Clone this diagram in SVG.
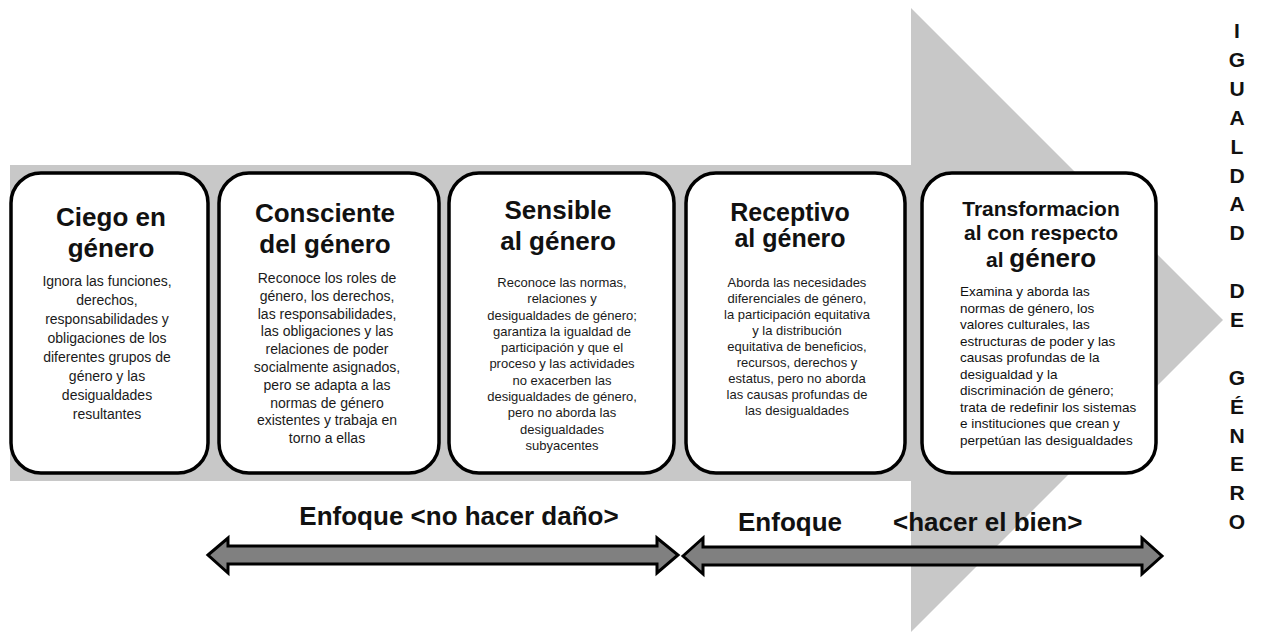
<svg xmlns="http://www.w3.org/2000/svg" width="1262" height="634" viewBox="0 0 1262 634">
<style>
text{font-family:"Liberation Sans",Arial,sans-serif;fill:#111}
.t{font-weight:bold;font-size:26px;text-anchor:middle}
.b{font-size:14px;text-anchor:middle;fill:#1a1a1a}
.b13{font-size:13px;text-anchor:middle;fill:#1a1a1a}
.box{fill:#fff;stroke:#000;stroke-width:3.5}
.dbl{fill:#808080;stroke:#000;stroke-width:3;stroke-linejoin:miter}
.v{font-weight:bold;font-size:21px;text-anchor:middle}
.e{font-weight:bold;font-size:26px}
</style>
<rect width="1262" height="634" fill="#fff"/>
<g id="big-arrow">
<polygon points="10,165 911,165 911,8 1223,320 911,632 911,481 10,481" fill="#c8c8c8"/>
</g>
<g id="box1">
<rect class="box" x="11" y="173" width="197" height="300" rx="30"/>
<text class="t" x="111" y="226">Ciego en</text>
<text class="t" x="111" y="257">género</text>
<text class="b" x="107" y="286">Ignora las funciones,</text>
<text class="b" x="107" y="305">derechos,</text>
<text class="b" x="107" y="324">responsabilidades  y</text>
<text class="b" x="107" y="343">obligaciones de los</text>
<text class="b" x="107" y="362">diferentes grupos de</text>
<text class="b" x="107" y="381">género y las</text>
<text class="b" x="107" y="400">desigualdades</text>
<text class="b" x="107" y="419">resultantes</text>
</g>
<g id="box2">
<rect class="box" x="219" y="173" width="220" height="300" rx="30"/>
<text class="t" x="325" y="222">Consciente</text>
<text class="t" x="325" y="253">del género</text>
<text class="b" x="327" y="283">Reconoce los roles de</text>
<text class="b" x="327" y="301">género, los derechos,</text>
<text class="b" x="327" y="319">las responsabilidades,</text>
<text class="b" x="327" y="336">las obligaciones  y las</text>
<text class="b" x="327" y="354">relaciones de poder</text>
<text class="b" x="327" y="372">socialmente  asignados,</text>
<text class="b" x="327" y="390">pero se adapta a las</text>
<text class="b" x="327" y="408">normas de género</text>
<text class="b" x="327" y="425">existentes y trabaja en</text>
<text class="b" x="327" y="443">torno a ellas</text>
</g>
<g id="box3">
<rect class="box" x="449" y="173" width="225" height="300" rx="30"/>
<text class="t" x="558" y="219">Sensible</text>
<text class="t" x="558" y="250">al género</text>
<text class="b13" x="562" y="287">Reconoce las normas,</text>
<text class="b13" x="562" y="303">relaciones y</text>
<text class="b13" x="562" y="320">desigualdades de género;</text>
<text class="b13" x="562" y="336">garantiza la igualdad de</text>
<text class="b13" x="562" y="352">participación y que el</text>
<text class="b13" x="562" y="368">proceso  y las actividades</text>
<text class="b13" x="562" y="385">no exacerben las</text>
<text class="b13" x="562" y="401">desigualdades de género,</text>
<text class="b13" x="562" y="417">pero no aborda las</text>
<text class="b13" x="562" y="434">desigualdades</text>
<text class="b13" x="562" y="450">subyacentes</text>
</g>
<g id="box4">
<rect class="box" x="686" y="173" width="219" height="300" rx="30"/>
<text class="t" x="790" y="221" style="font-size:25px">Receptivo</text>
<text class="t" x="790" y="247" style="font-size:25px">al género</text>
<text class="b13" x="797" y="287">Aborda las necesidades</text>
<text class="b13" x="797" y="303">diferenciales de género,</text>
<text class="b13" x="797" y="319">la participación equitativa</text>
<text class="b13" x="797" y="335">y la distribución</text>
<text class="b13" x="797" y="351">equitativa de beneficios,</text>
<text class="b13" x="797" y="367">recursos,  derechos y</text>
<text class="b13" x="797" y="383">estatus,  pero no aborda</text>
<text class="b13" x="797" y="399">las causas  profundas de</text>
<text class="b13" x="797" y="415">las desigualdades</text>
</g>
<g id="box5">
<rect class="box" x="922" y="173" width="234" height="300" rx="30"/>
<text class="t" x="1041" y="216" style="font-size:21px">Transformacion</text>
<text class="t" x="1041" y="240" style="font-size:21px">al con respecto</text>
<text class="t" x="1041" y="267" style="font-size:21px">al <tspan style="font-size:26px">género</tspan></text>
<g style="font-size:13.5px;fill:#1a1a1a">
<text x="960" y="296">Examina y aborda las</text>
<text x="960" y="312.5">normas de género, los</text>
<text x="960" y="329">valores culturales, las</text>
<text x="960" y="345.5">estructuras  de poder y las</text>
<text x="960" y="362">causas  profundas de la</text>
<text x="960" y="378.5">desigualdad y la</text>
<text x="960" y="395">discriminación de género;</text>
<text x="960" y="411.5">trata de redefinir los sistemas</text>
<text x="960" y="428">e instituciones que crean y</text>
<text x="960" y="444.5">perpetúan las desigualdades</text>
</g>
</g>
<g id="connectors">
<polygon class="dbl" points="208,555 228,538 228,546 657,546 657,538 678,555 657,573 657,564 228,564 228,573"/>
<polygon class="dbl" points="683,556 703,538 703,547 1142,547 1142,538 1162,556 1142,574 1142,565 703,565 703,574"/>
</g>
<g id="labels">
<text class="e" x="459" y="525" text-anchor="middle">Enfoque &lt;no hacer daño&gt;</text>
<text class="e" x="738" y="531">Enfoque</text>
<text class="e" x="893" y="531">&lt;hacer el bien&gt;</text>
</g>
<g id="vertical-title">
<text class="v" x="1237" y="38">I</text>
<text class="v" x="1237" y="67">G</text>
<text class="v" x="1237" y="96">U</text>
<text class="v" x="1237" y="125">A</text>
<text class="v" x="1237" y="154">L</text>
<text class="v" x="1237" y="183">D</text>
<text class="v" x="1237" y="211">A</text>
<text class="v" x="1237" y="240">D</text>
<text class="v" x="1237" y="298">D</text>
<text class="v" x="1237" y="327">E</text>
<text class="v" x="1237" y="385">G</text>
<text class="v" x="1237" y="414">É</text>
<text class="v" x="1237" y="443">N</text>
<text class="v" x="1237" y="471">E</text>
<text class="v" x="1237" y="500">R</text>
<text class="v" x="1237" y="529">O</text>
</g>
</svg>
